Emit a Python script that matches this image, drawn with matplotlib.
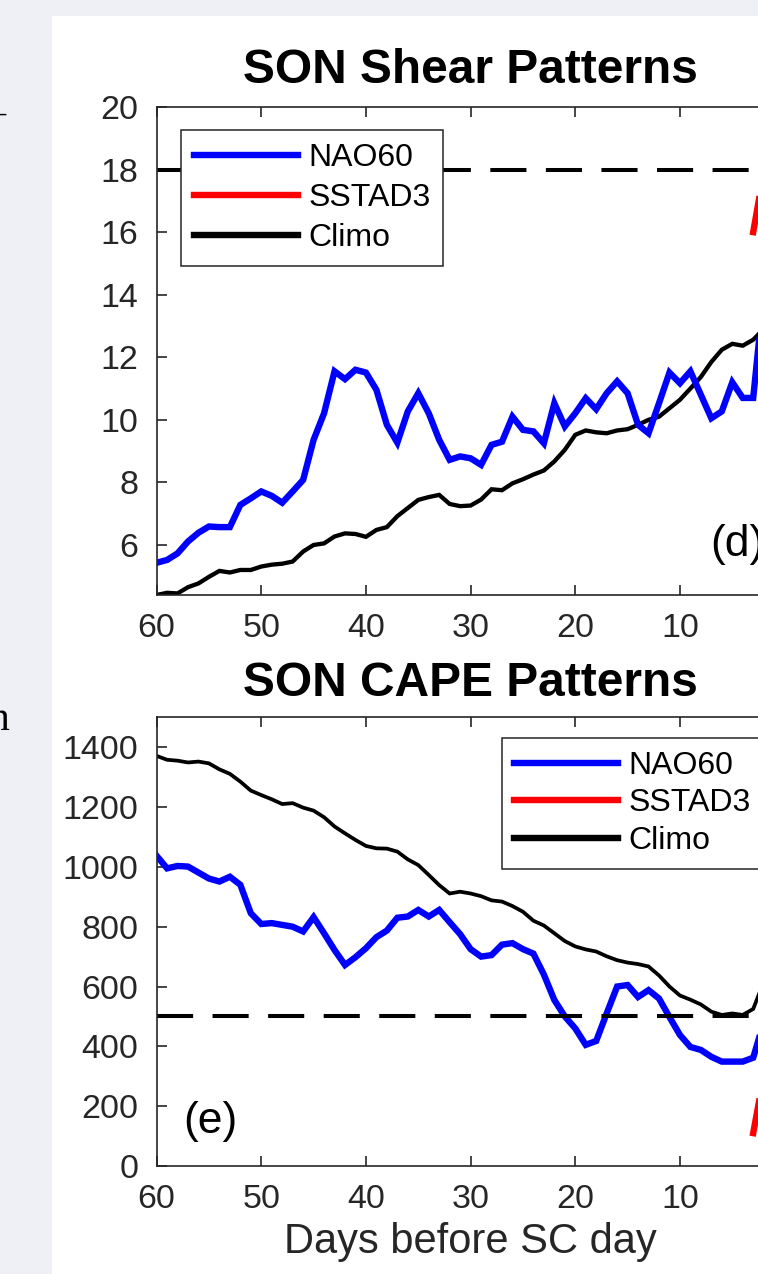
import matplotlib
matplotlib.use("Agg")
import matplotlib.pyplot as plt
from matplotlib.lines import Line2D
from matplotlib.patches import Rectangle

plt.rcParams['font.family'] = ['Liberation Sans', 'DejaVu Sans']
plt.rcParams['lines.scale_dashes'] = False

# ---- data -------------------------------------------------------------
days = list(range(60, 1, -1))          # days before SC day, 60 .. 2

shear_nao60 = [5.43, 5.52, 5.73, 6.11, 6.39, 6.59, 6.57, 6.57, 7.28, 7.49,
               7.71, 7.57, 7.35, 7.71, 8.08, 9.36, 10.21, 11.55, 11.30, 11.60,
               11.51, 10.96, 9.84, 9.27, 10.27, 10.85, 10.21, 9.36, 8.72, 8.83,
               8.77, 8.56, 9.20, 9.30, 10.10, 9.68, 9.63, 9.25, 10.53, 9.79,
               10.21, 10.69, 10.34, 10.85, 11.23, 10.85, 9.84, 9.57, 10.53, 11.51,
               11.17, 11.55, 10.80, 10.05, 10.27, 11.20, 10.70, 10.70, 14.0]
shear_climo = [4.40, 4.47, 4.45, 4.65, 4.77, 4.98, 5.17, 5.12, 5.20, 5.20,
               5.31, 5.37, 5.40, 5.47, 5.79, 6.00, 6.05, 6.27, 6.37, 6.35,
               6.26, 6.48, 6.57, 6.92, 7.18, 7.44, 7.53, 7.60, 7.31, 7.24,
               7.26, 7.45, 7.78, 7.75, 7.97, 8.10, 8.25, 8.38, 8.67, 9.04,
               9.52, 9.66, 9.60, 9.57, 9.66, 9.70, 9.84, 10.00, 10.10, 10.37,
               10.64, 11.00, 11.37, 11.85, 12.24, 12.43, 12.37, 12.56, 12.90]

cape_nao60 = [1037, 995, 1003, 1001, 981, 961, 951, 967, 940, 845,
              809, 812, 806, 800, 784, 832, 778, 722, 672, 698,
              728, 765, 787, 830, 834, 856, 834, 856, 815, 775,
              725, 700, 705, 740, 745, 725, 710, 640, 555, 500,
              460, 405, 418, 510, 600, 605, 565, 588, 560, 498,
              438, 398, 388, 365, 349, 349, 349, 362, 480]
cape_climo = [1371, 1358, 1355, 1349, 1352, 1346, 1326, 1311, 1285, 1255,
              1240, 1226, 1210, 1213, 1198, 1188, 1166, 1135, 1112, 1090,
              1070, 1062, 1061, 1051, 1025, 1006, 973, 939, 911, 917,
              911, 902, 888, 884, 869, 850, 820, 804, 778, 752,
              734, 724, 717, 701, 688, 680, 675, 667, 637, 600,
              570, 556, 540, 516, 505, 510, 505, 525, 615]

sstad3_days = [3, 2]
shear_sstad3 = [16.0, 17.9]
cape_sstad3 = [110, 300]

shear_threshold = 18
cape_threshold = 500

xticks = [60, 50, 40, 30, 20, 10, 0]
shear_yticks = [6, 8, 10, 12, 14, 16, 18, 20]
cape_yticks = [0, 200, 400, 600, 800, 1000, 1200, 1400]
series_names = ['NAO60', 'SSTAD3', 'Climo']

# ---- figure -----------------------------------------------------------
W, H = 758, 1274
fig = plt.figure(figsize=(W / 100, H / 100), dpi=100, facecolor='#eef0f5')
fig.add_artist(Rectangle((52 / W, 0), 1, 1 - 16 / H, transform=fig.transFigure,
                         facecolor='white', edgecolor='none', zorder=-10))
fig.text(6 / W, 1 - 114 / H, '\u2013', ha='right', va='center', fontsize=16,
         color='black')
fig.text(10 / W, 1 - 730 / H, 'n', ha='right', va='baseline', fontsize=30,
         family='Liberation Serif', color='black')

ax_left = 156.6 / W
ax_width = 628 / W
ax1 = fig.add_axes([ax_left, 1 - 595 / H, ax_width, 488 / H])
ax2 = fig.add_axes([ax_left, 1 - 1166 / H, ax_width, 448.7 / H])

axcol = '#262626'
tick_fs = 24.5
blue, red = '#0000ff', '#ff0000'


def style(ax):
    ax.set_xlim(60, 0)
    ax.set_xticks(xticks)
    for s in ax.spines.values():
        s.set_color(axcol)
        s.set_linewidth(1.2)
    ax.tick_params(direction='in', length=7, width=1.2, colors=axcol,
                   labelsize=tick_fs, pad=13, top=True, right=True)


def legend(ax, anchor, spacing):
    handles = [Line2D([], [], color=c, lw=4.6) for c in (blue, red, 'black')]
    lg = ax.legend(handles, series_names, loc='upper left', bbox_to_anchor=anchor,
                   borderaxespad=0, fontsize=23, handlelength=3.25,
                   handletextpad=0.33, labelspacing=spacing, borderpad=0.4,
                   fancybox=False, framealpha=1, edgecolor=axcol)
    lg.get_frame().set_linewidth(1.1)
    lg.set_zorder(10)


# Shear panel
ax1.plot(days, shear_climo, color='black', lw=3.1, solid_joinstyle='miter')
ax1.plot(days, shear_nao60, color=blue, lw=4.6, solid_joinstyle='miter')
ax1.plot(sstad3_days, shear_sstad3, color=red, lw=4.6)
ax1.axhline(shear_threshold, color='black', lw=2.9, dashes=(26, 14))
style(ax1)
ax1.set_ylim(4.4, 20)
ax1.set_yticks(shear_yticks)
ax1.set_title('SON Shear Patterns', fontsize=34.5, fontweight='bold', pad=17)
ax1.text(7.15, 6.0, '(d)', fontsize=32, ha='left', va='center', color='black')
legend(ax1, (0.0389, 0.953), 0.32)

# CAPE panel
ax2.plot(days, cape_climo, color='black', lw=2.7, solid_joinstyle='miter')
ax2.plot(days, cape_nao60, color=blue, lw=4.6, solid_joinstyle='miter')
ax2.plot(sstad3_days, cape_sstad3, color=red, lw=4.6)
ax2.axhline(cape_threshold, color='black', lw=2.9, dashes=(26, 14))
style(ax2)
ax2.set_ylim(0, 1500)
ax2.set_yticks(cape_yticks)
ax2.set_title('SON CAPE Patterns', fontsize=34.5, fontweight='bold', pad=15)
ax2.text(57.5, 150, '(e)', fontsize=32, ha='left', va='center', color='black')
ax2.set_xlabel('Days before SC day', fontsize=30, color=axcol, labelpad=5)
legend(ax2, (0.5495, 0.954), 0.24)

fig.savefig('out.png', dpi=100, facecolor=fig.get_facecolor())
